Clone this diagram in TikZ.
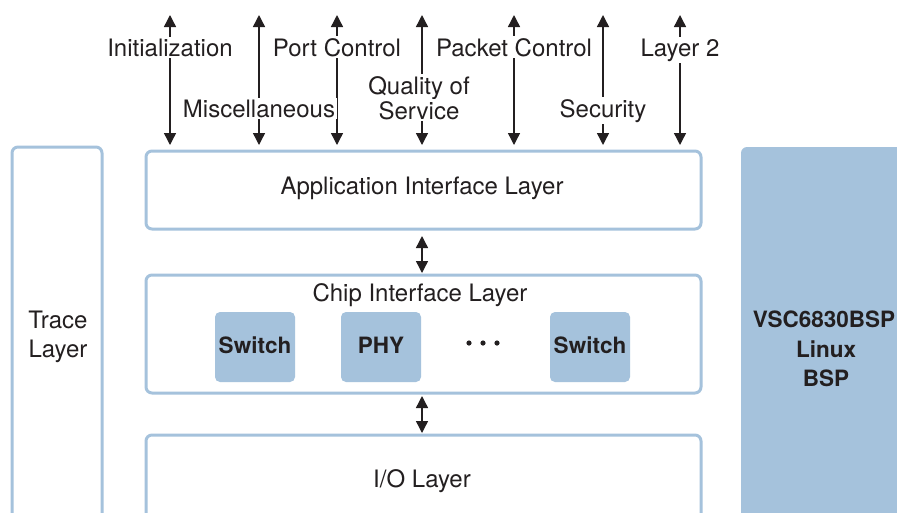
\documentclass[tikz,border=0pt]{standalone}
\usepackage{fontspec}
\setmainfont{TeX Gyre Heros}
\usetikzlibrary{arrows.meta}
\definecolor{lblue}{HTML}{A5C2DC}
\definecolor{ink}{HTML}{231F20}
\begin{document}
\begin{tikzpicture}[x=1pt,y=-1pt,
  every node/.style={font=\fontsize{24}{29}\selectfont, text=ink, anchor=base},
  layer/.style={draw=lblue, line width=3pt, rounded corners=6pt, fill=white, anchor=center},
  chip/.style={fill=lblue, rounded corners=5pt, minimum width=80pt, minimum height=70pt, anchor=center},
  bold/.style={font=\fontsize{22.5}{27}\selectfont\bfseries},
  lbl/.style={fill=white, inner sep=2pt},
  conn/.style={draw=ink, line width=1.4pt, {Triangle[width=12pt,length=12pt]}-{Triangle[width=12pt,length=12pt]}},
  box/.style={inner sep=0pt, outer sep=0pt}
]
\useasboundingbox (0,0) rectangle (897,512);
\clip (0,0) rectangle (897,512);

% side boxes
\draw[layer] (12,147) rectangle (102,540);
\node (trace1) at (58,328) {Trace};
\node (trace2) at (58,357) {Layer};
\fill[lblue, rounded corners=6pt] (741,147) rectangle (930,540);
\node[bold] (bsp1) at (824,327) {VSC6830BSP};
\node[bold] (bsp2) at (826,357) {Linux};
\node[bold] (bsp3) at (826,386) {BSP};

% layers
\node[layer, box, minimum width=555pt, minimum height=78pt] (app) at (423.5,190) {};
\node (appt) at (422,194) {Application Interface Layer};
\node[layer, box, minimum width=555pt, minimum height=118pt] (chipl) at (423.5,334) {};
\node (chipt) at (420,301) {Chip Interface Layer};
\node[layer, box, minimum width=555pt, minimum height=130pt] (io) at (423.5,500) {};
\node (iot) at (422,487) {I/O Layer};

% chips
\node[chip] (sw1) at (255,347) {};
\node[bold] at (255,353) {Switch};
\node[chip] (phy) at (381,347) {};
\node[bold] at (381,353) {PHY};
\node[chip] (sw2) at (590,347) {};
\node[bold] at (590,353) {Switch};
\foreach \x in {469,483,497}{\fill[ink] (\x,343) circle (2.6pt);}

% inter-layer arrows
\draw[conn] ([xshift=-1.5pt]app.south) ++(0,7) coordinate (a1) -- ([yshift=2pt]a1 |- chipl.north);
\draw[conn] ([xshift=-1.5pt]chipl.south) ++(0,3) coordinate (a2) -- ([yshift=2pt]a2 |- io.north);

% top arrows
\foreach \n/\x in {1/170,2/259,3/337,4/422,5/514,6/603,7/680}{
  \coordinate (t\n) at (\x,15);
  \draw[conn] (t\n) -- ([yshift=6pt]t\n |- app.north);
}

% labels
\node[lbl] (l1) at (170,56) {Initialization};
\node[lbl] (l3) at (337,56) {Port Control};
\node[lbl] (l5) at (514,56) {Packet Control};
\node[lbl] (l7) at (680,56) {Layer 2};
\node[lbl] (l2) at (259,117) {Miscellaneous};
\node[lbl] (l4a) at (419,94) {Quality of};
\node[lbl] (l4b) at (419,119) {Service};
\node[lbl] (l6) at (603,117) {Security};
\end{tikzpicture}
\end{document}
